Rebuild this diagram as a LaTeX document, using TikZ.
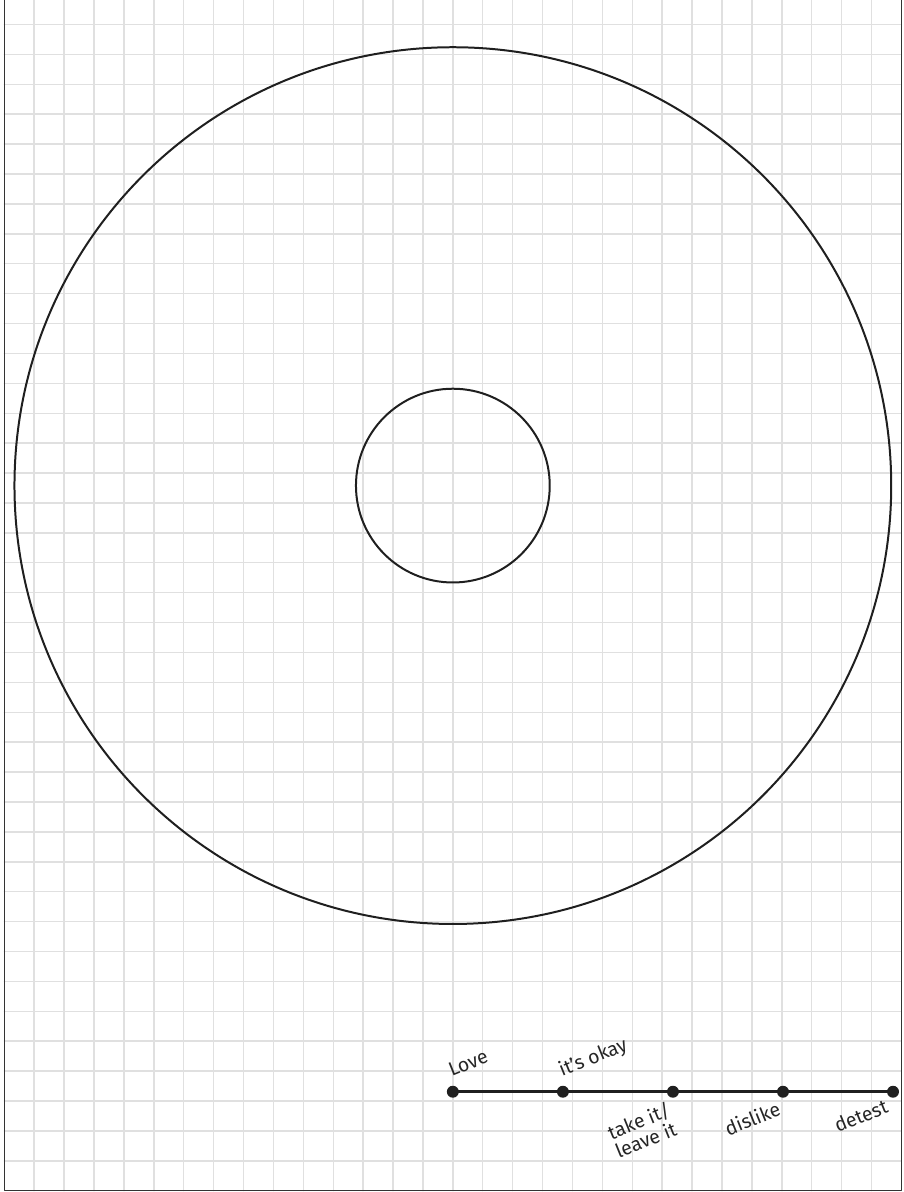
\documentclass[tikz,border=0pt]{standalone}
\usepackage{fontspec}
\setmainfont{Fira Sans}

\begin{document}
\begin{tikzpicture}[line cap=round,line join=round,
    every node/.style={inner sep=0pt},
    gridline/.style={line width=1.4pt,color=black!12},
    ring/.style={line width=1.9pt,color=black!88},
    dot/.style={circle,fill=black!88,minimum size=0.4cm},
    tag/.style={font=\fontsize{18.5}{19}\selectfont,text=black!85,rotate=22}]
  \def\d{3.68}
  \def\s{3.31}
  \useasboundingbox (-0.144,-0.043) rectangle (30.057,39.82);
  \clip (-0.144,-0.043) rectangle (30.057,39.82);
  % grid paper
  \foreach \i in {1,...,29} \draw[gridline] (\i,0) -- (\i,40);
  \foreach \j in {1,...,39} \draw[gridline] (0,\j) -- (30,\j);
  \draw[line width=1.4pt,color=black!80] (0,0) rectangle (30,40.5);
  % rings
  \coordinate (o) at (15,23.58);
  \draw[ring] (o) circle (14.66);
  \draw[ring] (o) circle (3.24);
  % scale
  \foreach \k in {1,...,5} \node[dot] (d\k) at ({15+(\k-1)*\d},\s) {};
  \draw[line width=2.6pt,color=black!88] (d1.center) -- (d5.center);
  \node[tag,anchor=base west] (love) at ([shift={(-0.04,0.5)}]d1.center) {Love};
  \node[tag,anchor=base west] (okay) at ([shift={(-0.03,0.5)}]d2.center) {it’s okay};
  \node[tag,anchor=north east,align=left] (take) at ([shift={(-0.22,-0.3)}]d3.center) {take it/\\leave it};
  \node[tag,anchor=north east] (dislike) at ([shift={(-0.22,-0.28)}]d4.center) {dislike};
  \node[tag,anchor=north east] (detest) at ([shift={(-0.3,-0.22)}]d5.center) {detest};
\end{tikzpicture}
\end{document}
